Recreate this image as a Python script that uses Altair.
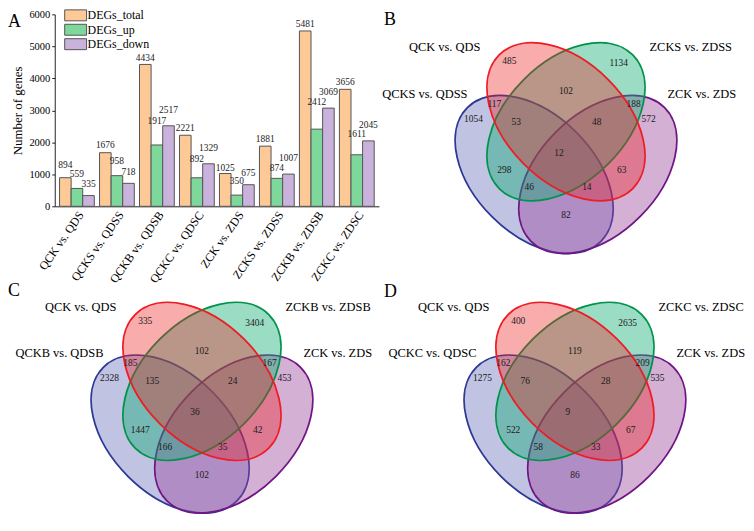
import altair as alt
import pandas as pd

SERIF = "Liberation Serif"

# ---------------- Panel A data ----------------
comparisons = ["QCK vs. QDS", "QCKS vs. QDSS", "QCKB vs. QDSB", "QCKC vs. QDSC",
               "ZCK vs. ZDS", "ZCKS vs. ZDSS", "ZCKB vs. ZDSB", "ZCKC vs. ZDSC"]
series = ["DEGs_total", "DEGs_up", "DEGs_down"]
degs_total = [894, 1676, 4434, 2221, 1025, 1881, 5481, 3656]
degs_up = [559, 958, 1917, 892, 350, 874, 2412, 1611]
degs_down = [335, 718, 2517, 1329, 675, 1007, 3069, 2045]
y_ticks = [0, 1000, 2000, 3000, 4000, 5000, 6000]
bar_colors = ["#fdc997", "#7fd89b", "#c9b3dc"]

# label gap above each bar top (pixels, layout only)
gap_total = [13, 8, 6, 7, 6, 7, 7, 7]
gap_up = [14, 15, 24, 19, 14, 10, 27, 21]
gap_down = [12, 11, 16, 16, 12, 16, 16, 16]

# ---------------- Venn data ----------------
# set order: red (top-left), green (top-right), blue (left), purple (right)
region_keys = ["R", "G", "RG", "BR", "GP", "B", "BRG", "RGP", "P", "BRGP",
               "BG", "RP", "BGP", "BRP", "BP"]
venn_B_sets = ["QCK vs. QDS", "ZCKS vs. ZDSS", "QCKS vs. QDSS", "ZCK vs. ZDS"]
venn_B_counts = [485, 1134, 102, 117, 188, 1054, 53, 48, 572, 12, 298, 63, 46, 14, 82]
venn_C_sets = ["QCK vs. QDS", "ZCKB vs. ZDSB", "QCKB vs. QDSB", "ZCK vs. ZDS"]
venn_C_counts = [335, 3404, 102, 185, 167, 2328, 135, 24, 453, 36, 1447, 42, 166, 35, 102]
venn_D_sets = ["QCK vs. QDS", "ZCKC vs. ZDSC", "QCKC vs. QDSC", "ZCK vs. ZDS"]
venn_D_counts = [400, 2635, 119, 162, 209, 1275, 76, 28, 535, 9, 522, 67, 58, 33, 86]

# Venn layout template (pixels relative to the red ellipse centre)
region_dx = [-57, 53, 0, -72, 68, -93, -50, 31, 83, -7, -62, 56, -37, 21, 0]
region_dy = [-61, -59, -31, -18, -18, -3, 0, 0, -3, 31, 49, 49, 66, 66, 94]
ell_dx = [0, 0, -32, 32]
ell_dy = [0, 0, 53, 53]
ell_angle = [45, 135, 45, 135]
ell_fill = ["#ec1e1e", "#11ac75", "#6970bb", "#9b439b"]
ell_fill_opacity = [0.37, 0.42, 0.42, 0.42]
ell_stroke = ["#ee1c25", "#00934a", "#2b3896", "#6f1584"]
ell_draw_order = [3, 2, 0, 1]  # blue, purple, green, red
set_dx = [-86, 84, -99, 102]
set_dy = [-75, -75, -28, -28]
set_side = ["right", "left", "right", "left"]
ELL_A, ELL_B = 95.0, 60.0

k = 0.5523
r = ELL_B / ELL_A
ELLIPSE_PATH = (
    f"M1,0 C1,{k*r:.4f} {k:.4f},{r:.4f} 0,{r:.4f} "
    f"C{-k:.4f},{r:.4f} -1,{k*r:.4f} -1,0 "
    f"C-1,{-k*r:.4f} {-k:.4f},{-r:.4f} 0,{-r:.4f} "
    f"C{k:.4f},{-r:.4f} 1,{-k*r:.4f} 1,0 Z"
)
RECT_PATH = "M-2,-1H2V1H-2Z"

# ---------------- Panel A ----------------
PLOT_W, PLOT_H, Y_MAX = 326, 193, 6000
rows = []
for i, c in enumerate(comparisons):
    for s, vals, gaps in zip(series, [degs_total, degs_up, degs_down],
                             [gap_total, gap_up, gap_down]):
        rows.append({"comparison": c, "series": s, "value": vals[i], "gap": gaps[i]})
bar_df = pd.DataFrame(rows)

x_scale = alt.Scale(paddingInner=0.13, paddingOuter=0.12)
x_axis = alt.Axis(labelAngle=-55, labelAlign="right", labelBaseline="top",
                  labelFont=SERIF, labelFontSize=12, labelColor="black",
                  labelPadding=3, ticks=False, domainColor="#222222", labelLimit=200)
y_scale = alt.Scale(domain=[0, Y_MAX], nice=False)
y_axis = alt.Axis(values=y_ticks, format="d", grid=False, labelFont=SERIF,
                  labelFontSize=10.5, labelColor="black", tickSize=3,
                  tickColor="#222222", domainColor="#222222", labelPadding=2,
                  titleFont=SERIF, titleFontSize=13, titleFontWeight="normal",
                  titleColor="black", titlePadding=4)

bars = alt.Chart(bar_df).mark_bar(stroke="#555555", strokeWidth=1).encode(
    x=alt.X("comparison:N", sort=comparisons, title=None, scale=x_scale, axis=x_axis),
    xOffset=alt.XOffset("series:N", sort=series,
                        scale=alt.Scale(paddingInner=0, paddingOuter=0)),
    y=alt.Y("value:Q", scale=y_scale, axis=y_axis, title="Number of genes"),
    color=alt.Color("series:N", sort=series,
                    scale=alt.Scale(domain=series, range=bar_colors),
                    legend=alt.Legend(title=None, orient="none", legendX=15, legendY=-5,
                                      direction="vertical", symbolType=RECT_PATH,
                                      symbolSize=121, symbolStrokeColor="#555555",
                                      symbolStrokeWidth=1, symbolOpacity=1,
                                      labelFont=SERIF, labelFontSize=12,
                                      labelColor="black", labelOffset=6,
                                      rowPadding=-1.5, padding=0)),
)

bar_labels = alt.Chart(bar_df).transform_calculate(
    label_y=f"datum.value + datum.gap * {Y_MAX} / {PLOT_H}"
).mark_text(font=SERIF, fontSize=9.5, color="#222222", baseline="middle").encode(
    x=alt.X("comparison:N", sort=comparisons, title=None, scale=x_scale, axis=x_axis),
    xOffset=alt.XOffset("series:N", sort=series),
    y=alt.Y("label_y:Q", scale=y_scale, axis=y_axis, title="Number of genes"),
    text=alt.Text("value:Q", format="d"),
)

letter_a = alt.Chart(pd.DataFrame({"t": ["A"]})).mark_text(
    font=SERIF, fontSize=18, align="left", baseline="middle", color="black"
).encode(x=alt.value(-47), y=alt.value(8), text="t:N")

panel_a = alt.layer(bars, bar_labels, letter_a).properties(width=PLOT_W, height=PLOT_H)


# ---------------- Venn panels ----------------
def venn_panel(sets, counts, cx, cy, letter, lx, ly, W, H):
    xs = alt.Scale(domain=[0, W], range=[0, W], nice=False, zero=False)
    ys = alt.Scale(domain=[0, H], range=[0, H], nice=False, zero=False)

    ell_df = pd.DataFrame({
        "x": [cx + d for d in ell_dx],
        "y": [cy + d for d in ell_dy],
        "angle": ell_angle,
        "fill": ell_fill,
        "fop": ell_fill_opacity,
        "stroke": ell_stroke,
        "ord": ell_draw_order,
    }).sort_values("ord")
    ellipses = alt.Chart(ell_df).mark_point(
        shape=ELLIPSE_PATH, size=(2 * ELL_A) ** 2, filled=True,
        strokeWidth=1.8, opacity=1, strokeOpacity=1
    ).encode(
        x=alt.X("x:Q", scale=xs, axis=None),
        y=alt.Y("y:Q", scale=ys, axis=None),
        angle=alt.Angle("angle:Q", scale=None),
        fill=alt.Fill("fill:N", scale=None),
        fillOpacity=alt.FillOpacity("fop:Q", scale=None),
        stroke=alt.Stroke("stroke:N", scale=None),
        order=alt.Order("ord:Q"),
    )

    reg_df = pd.DataFrame({
        "x": [cx + d for d in region_dx],
        "y": [cy + d for d in region_dy],
        "n": [str(c) for c in counts],
    })
    numbers = alt.Chart(reg_df).mark_text(
        font=SERIF, fontSize=9.5, color="#1a1a1a", baseline="middle", align="center"
    ).encode(x=alt.X("x:Q", scale=xs, axis=None), y=alt.Y("y:Q", scale=ys, axis=None),
             text="n:N")

    set_df = pd.DataFrame({
        "x": [cx + d for d in set_dx],
        "y": [cy + d for d in set_dy],
        "name": sets,
        "side": set_side,
    })
    lab_r = alt.Chart(set_df).transform_filter(alt.datum.side == "right").mark_text(
        font=SERIF, fontSize=12.5, color="black", baseline="middle", align="right"
    ).encode(x=alt.X("x:Q", scale=xs, axis=None), y=alt.Y("y:Q", scale=ys, axis=None),
             text="name:N")
    lab_l = alt.Chart(set_df).transform_filter(alt.datum.side == "left").mark_text(
        font=SERIF, fontSize=12.5, color="black", baseline="middle", align="left"
    ).encode(x=alt.X("x:Q", scale=xs, axis=None), y=alt.Y("y:Q", scale=ys, axis=None),
             text="name:N")

    let_df = pd.DataFrame({"x": [lx], "y": [ly], "t": [letter]})
    let = alt.Chart(let_df).mark_text(
        font=SERIF, fontSize=18, color="black", baseline="middle", align="left"
    ).encode(x=alt.X("x:Q", scale=xs, axis=None), y=alt.Y("y:Q", scale=ys, axis=None),
             text="t:N")

    return alt.layer(ellipses, numbers, lab_r, lab_l, let).properties(width=W, height=H)


panel_b = venn_panel(venn_B_sets, venn_B_counts, 188, 108, "B", 5, 5.5, 360, 193)
panel_c = venn_panel(venn_C_sets, venn_C_counts, 148, 176, "C", -47, 85.5, 326, 290)
panel_d = venn_panel(venn_D_sets, venn_D_counts, 197, 176, "D", 5, 86.5, 360, 290)

chart = alt.concat(panel_a, panel_b, panel_c, panel_d, columns=2, spacing=0,
                   bounds="flush").properties(padding=0).configure_view(stroke=None)

chart.save("out.html", embed_options={"renderer": "svg", "actions": False})
